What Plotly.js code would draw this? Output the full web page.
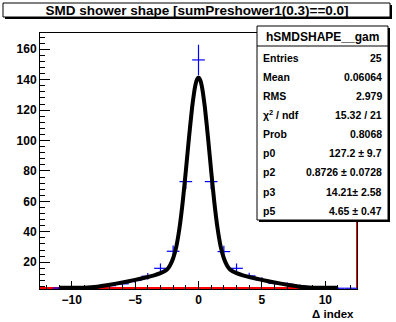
<!DOCTYPE html>
<html>
<head>
<meta charset="utf-8">
<script src="https://cdn.plot.ly/plotly-3.0.1.min.js"></script>
<style>html,body{margin:0;padding:0;background:#fff;}#chart{width:396px;height:322px;}</style>
</head>
<body>
<div id="chart"></div>
<script>
// ---- data ----
const binCenters = [-12,-11,-10,-9,-8,-7,-6,-5,-4,-3,-2,-1,0,1,2,3,4,5,6,7,8,9,10,11,12];
const binCounts  = [0,3.0,3.0,3.3,4.0,4.6,5.8,8.0,10.8,16.0,27.2,73.0,153.0,73.0,27.0,16.0,11.0,8.5,6.2,5.5,4.4,2.9,2.9,2.9,2.9];
const binErrors  = [0,0.5,0.5,0.6,0.8,1.0,1.2,1.6,2.1,3.2,3.8,5.0,10.0,5.0,3.8,3.2,2.1,1.7,1.3,1.2,1.0,0.5,0.5,0.5,0.5];

const fitX = [-11,-10,-9,-8,-7,-6,-5,-4,-3.5,-3,-2.5,-2.25,-2,-1.75,-1.5,-1.25,-1,-0.75,-0.5,-0.25,-0.125,0,
              0.125,0.25,0.5,0.75,1,1.25,1.5,1.75,2,2.25,2.5,3,3.5,4,5,6,7,8,9,10,11];
const fitY = [3.2,3.2,3.3,3.9,5.2,6.7,8.4,10.3,11.4,12.8,15.0,17.8,22.6,30.3,42.5,59.3,79.9,101.9,122.0,136.3,140.1,141.4,
              140.1,136.3,122.0,101.9,79.9,59.3,42.5,30.3,22.6,17.8,15.0,12.8,11.4,10.3,8.4,6.7,5.2,3.9,3.3,3.2,3.2];

const redBottomX = [-12.5, 8.1];
const redBottomY = [3.1, 3.1];
const redSideX = [12.5, 12.5];
const redSideY = [3.1, 170.7];

const xTicks = [-10,-5,0,5,10];
const yTicks = [20,40,60,80,100,120,140,160];

const titleText = 'SMD shower shape [sumPreshower1(0.3)==0.0]';
const statName = 'hSMDSHAPE__gam';
const statLabels = ['Entries','Mean','RMS','\u03c7<sup>2</sup> / ndf','Prob','p0','p2','p3','p5'];
const statValues = ['25','0.06064','2.979','15.32 / 21','0.8068','127.2 \u00b1 9.7','0.8726 \u00b1 0.0728','14.21\u00b1 2.58','4.65 \u00b1 0.47'];

// ---- geometry helpers (pixel -> paper) ----
const W = 396, H = 322;
const M = {l:40, r:39, t:33, b:33};
const PW = W - M.l - M.r, PH = H - M.t - M.b;
const px = x => (x - M.l) / PW;
const py = y => (H - M.b - y) / PH;

const FONT = 'Liberation Sans, Arial, Helvetica, sans-serif';

const traces = [
  {x: redBottomX, y: redBottomY, type:'scatter', mode:'lines', line:{color:'#ff0000', width:2}, hoverinfo:'skip', showlegend:false},
  {x: redSideX, y: redSideY, type:'scatter', mode:'lines', line:{color:'#ff0000', width:2}, hoverinfo:'skip', showlegend:false},
  {x: binCenters, y: binCounts, type:'scatter', mode:'markers',
   marker:{size:1, color:'rgba(0,0,255,0)'},
   error_y:{type:'data', array: binErrors, visible:true, color:'#0000ff', thickness:1.2, width:0},
   error_x:{type:'constant', value:0.5, visible:true, color:'#0000ff', thickness:1.2, width:0},
   showlegend:false},
  {x: fitX, y: fitY, type:'scatter', mode:'lines', line:{color:'#000', width:4, shape:'spline', smoothing:0.5}, showlegend:false}
];

const shapes = [
  // title box shadow + box
  {type:'rect', xref:'paper', yref:'paper', x0:px(5), x1:px(392), y0:py(19), y1:py(5), fillcolor:'#000', line:{width:0}, layer:'above'},
  {type:'rect', xref:'paper', yref:'paper', x0:px(3), x1:px(390), y0:py(17), y1:py(3), fillcolor:'#fff', line:{color:'#000', width:1}, layer:'above'},
  // stats box shadow + box
  {type:'rect', xref:'paper', yref:'paper', x0:px(259), x1:px(390), y0:py(222), y1:py(28), fillcolor:'#000', line:{width:0}, layer:'above'},
  {type:'rect', xref:'paper', yref:'paper', x0:px(257), x1:px(388), y0:py(220), y1:py(26), fillcolor:'#fff', line:{color:'#000', width:1}, layer:'above'},
  {type:'line', xref:'paper', yref:'paper', x0:px(257), x1:px(388), y0:py(46), y1:py(46), line:{color:'#000', width:1}, layer:'above'}
];

const annotations = [
  {text: statName, xref:'paper', yref:'paper', x:px(322.5), y:py(37), xanchor:'center', yanchor:'middle', showarrow:false,
   font:{family:FONT, size:12, color:'#000', weight:'bold'}},
  {text:'\u0394 index', xref:'paper', yref:'paper', x:px(356), y:py(314), xanchor:'right', yanchor:'middle', showarrow:false,
   font:{family:FONT, size:11.5, color:'#000', weight:'bold'}}
];
statLabels.forEach((lab, i) => {
  const yy = 57.5 + i * 19.15;
  annotations.push({text: lab, xref:'paper', yref:'paper', x:px(261), y:py(yy), xanchor:'left', yanchor:'middle', showarrow:false,
    font:{family:FONT, size:10.5, color:'#000', weight:'bold'}});
  annotations.push({text: statValues[i], xref:'paper', yref:'paper', x:px(384), y:py(yy), xanchor:'right', yanchor:'middle', showarrow:false,
    font:{family:FONT, size:10.5, color:'#000', weight:'bold'}});
});

const layout = {
  width: W, height: H,
  margin: {l:M.l, r:M.r, t:M.t, b:M.b, pad:0, autoexpand:false},
  paper_bgcolor:'#fff', plot_bgcolor:'#fff',
  showlegend:false,
  title: {text: titleText, xref:'container', yref:'container', x: 197/W, y: 1 - 10/H, xanchor:'center', yanchor:'middle',
          font:{family:FONT, size:13.5, color:'#000', weight:'bold'}},
  xaxis: {range:[-12.5,12.5], tickmode:'array', tickvals:xTicks, ticks:'inside', ticklen:8, tickwidth:1, tickcolor:'#000',
          minor:{ticks:'inside', dtick:1, tick0:0, ticklen:4, tickwidth:1, tickcolor:'#000'},
          showline:true, linecolor:'#000', linewidth:1, mirror:true, showgrid:false, zeroline:false,
          tickfont:{family:FONT, size:12, color:'#000', weight:'bold'}},
  yaxis: {range:[2.4,170.7], tickmode:'array', tickvals:yTicks, ticks:'inside', ticklen:10, tickwidth:1, tickcolor:'#000',
          minor:{ticks:'inside', dtick:4, tick0:0, ticklen:5, tickwidth:1, tickcolor:'#000'},
          showline:true, linecolor:'#000', linewidth:1, mirror:true, showgrid:false, zeroline:false,
          tickfont:{family:FONT, size:12, color:'#000', weight:'bold'}},
  shapes: shapes,
  annotations: annotations
};

Plotly.newPlot('chart', traces, layout, {staticPlot:true, displayModeBar:false});
</script>
</body>
</html>
